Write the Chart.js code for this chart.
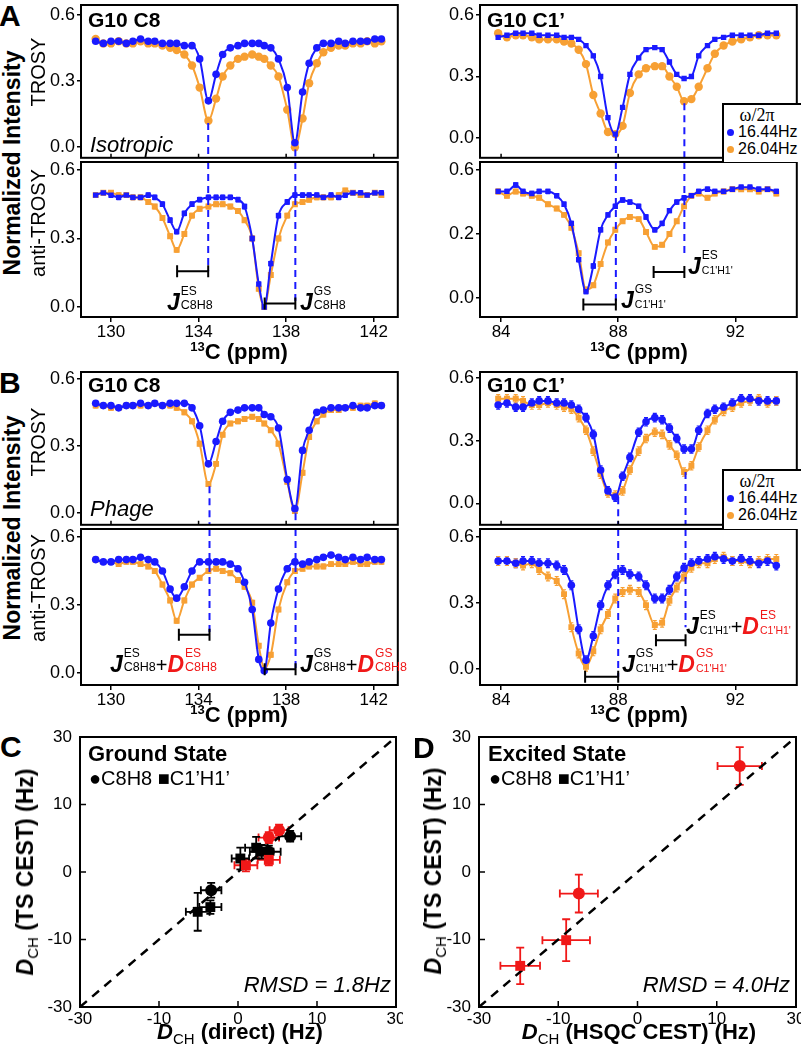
<!DOCTYPE html>
<html>
<head>
<meta charset="utf-8">
<script src="https://cdn.jsdelivr.net/npm/chart.js@4.4.1/dist/chart.umd.min.js"></script>
<style>
  body { margin: 0; background: #fff; }
  #fig { position: relative; width: 801px; height: 1050px; overflow: hidden; font-family: Arial, "Liberation Sans", sans-serif; color: #000; }
  canvas { position: absolute; }
  .t { position: absolute; white-space: nowrap; line-height: 1; z-index: 2; }
  .pl { font-size: 30px; font-weight: bold; }
  .ttl { font-size: 21px; font-weight: bold; }
  .cond { font-size: 22px; font-style: italic; }
  .rot { transform: translate(-50%, -50%) rotate(-90deg); }
  .ylab { font-size: 23px; font-weight: bold; }
  .ysub { font-size: 20px; }
  .xt { font-size: 22px; font-weight: bold; transform: translateX(-50%); }
  .xt sup { font-size: 13px; vertical-align: 8px; }
  .dch i { font-style: italic; }
  .dch sub { font-size: 15px; font-weight: normal; vertical-align: -5px; }
  .jl { position: absolute; width: 0; height: 0; z-index: 2; }
  .jl span { position: absolute; line-height: 1; white-space: nowrap; }
  .jl .big { font-weight: bold; font-style: italic; }
  .jl .red { color: #f01818; }
  .lgbox { position: absolute; border-left: 2px solid #000; border-top: 2px solid #000; background: #fff; z-index: 1; }
  .omega { font-family: "Liberation Serif", "Times New Roman", serif; font-size: 18px; transform: translateX(-50%); }
  .lgt { font-size: 16px; }
  .dot { position: absolute; width: 7px; height: 7px; border-radius: 50%; z-index: 2; }
  .state { font-size: 22px; font-weight: bold; }
  .mk { font-size: 20px; }
  .rmsd { font-size: 22px; font-style: italic; transform: translateX(-100%); }
</style>
</head>
<body>
<div id="fig">
  <div class="t pl" style="left:-1px;top:1px">A</div>
  <div class="t pl" style="left:-1px;top:368px">B</div>
  <div class="t pl" style="left:0px;top:732px">C</div>
  <div class="t pl" style="left:413px;top:733px">D</div>

  <div class="t ttl" style="left:88px;top:9px">G10 C8</div>
  <div class="t ttl" style="left:487px;top:9px">G10 C1’</div>
  <div class="t ttl" style="left:88px;top:374px">G10 C8</div>
  <div class="t ttl" style="left:487px;top:374px">G10 C1’</div>
  <div class="t cond" style="left:90px;top:134px">Isotropic</div>
  <div class="t cond" style="left:90px;top:498px">Phage</div>

  <div class="t rot ylab" style="left:12px;top:163px">Normalized Intensity</div>
  <div class="t rot ysub" style="left:38px;top:72px">TROSY</div>
  <div class="t rot ysub" style="left:38px;top:223px">anti-TROSY</div>
  <div class="t rot ylab" style="left:12px;top:528px">Normalized Intensity</div>
  <div class="t rot ysub" style="left:38px;top:442px">TROSY</div>
  <div class="t rot ysub" style="left:38px;top:588px">anti-TROSY</div>

  <div class="t xt" style="left:239px;top:340px"><sup>13</sup>C (ppm)</div>
  <div class="t xt" style="left:639px;top:340px"><sup>13</sup>C (ppm)</div>
  <div class="t xt" style="left:239px;top:703px"><sup>13</sup>C (ppm)</div>
  <div class="t xt" style="left:639px;top:703px"><sup>13</sup>C (ppm)</div>

  <!-- legends -->
  <div class="lgbox" style="left:722px;top:103px;width:82px;height:57px"></div>
  <div class="t omega" style="left:757px;top:106px">ω/2π</div>
  <div class="dot" style="left:727px;top:129px;background:#1a1aff"></div>
  <div class="t lgt" style="left:738px;top:124px">16.44Hz</div>
  <div class="dot" style="left:727px;top:146px;background:#f7a034"></div>
  <div class="t lgt" style="left:738px;top:141px">26.04Hz</div>

  <div class="lgbox" style="left:722px;top:469px;width:82px;height:58px"></div>
  <div class="t omega" style="left:757px;top:472px">ω/2π</div>
  <div class="dot" style="left:727px;top:495px;background:#1a1aff"></div>
  <div class="t lgt" style="left:738px;top:490px">16.44Hz</div>
  <div class="dot" style="left:727px;top:512px;background:#f7a034"></div>
  <div class="t lgt" style="left:738px;top:507px">26.04Hz</div>

  <!-- panels C and D text -->
  <div class="t state" style="left:88px;top:743px">Ground State</div>
  <div class="t mk" style="left:89px;top:768px">●C8H8 ■C1’H1’</div>
  <div class="t rmsd" style="left:391px;top:974px">RMSD = 1.8Hz</div>
  <div class="t state" style="left:488px;top:743px">Excited State</div>
  <div class="t mk" style="left:489px;top:768px">●C8H8 ■C1’H1’</div>
  <div class="t rmsd" style="left:790px;top:974px">RMSD = 4.0Hz</div>

  <div class="t rot ylab dch" style="left:27px;top:872px"><i>D</i><sub>CH</sub> (TS CEST) (Hz)</div>
  <div class="t rot ylab dch" style="left:435px;top:871px"><i>D</i><sub>CH</sub> (TS CEST) (Hz)</div>
  <div class="t xt dch" style="left:240px;top:1021px"><i>D</i><sub>CH</sub> (direct) (Hz)</div>
  <div class="t xt dch" style="left:639px;top:1021px"><i>D</i><sub>CH</sub> (HSQC CEST) (Hz)</div>
</div>

<script>
'use strict';

// ---------- CEST profiles ----------
const c8Ppm = [129.3, 129.65, 130.0, 130.35, 130.7, 131.0, 131.35, 131.7, 132.0, 132.35,
  132.7, 133.0, 133.35, 133.7, 134.05, 134.45, 134.8, 135.1, 135.45, 135.8,
  136.1, 136.45, 136.75, 137.0, 137.3, 137.65, 138.05, 138.4, 138.75, 139.05,
  139.4, 139.7, 140.05, 140.4, 140.7, 141.05, 141.4, 141.7, 142.05, 142.35];
const c1Ppm = [83.9, 84.2, 84.5, 84.75, 85.05, 85.3, 85.6, 85.9, 86.15, 86.4,
  86.65, 86.9, 87.15, 87.4, 87.65, 87.9, 88.15, 88.4, 88.7, 88.95,
  89.25, 89.5, 89.75, 90.0, 90.25, 90.5, 90.75, 91.05, 91.3, 91.6,
  91.9, 92.2, 92.5, 92.8, 93.1, 93.4];

// A: isotropic
const isoC8TrosyBlue = [0.48,0.47,0.48,0.48,0.47,0.48,0.49,0.48,0.48,0.47,0.47,0.47,0.46,0.46,0.40,0.21,0.33,0.42,0.45,0.46,0.47,0.47,0.47,0.46,0.45,0.40,0.27,0.02,0.25,0.38,0.45,0.47,0.47,0.48,0.47,0.48,0.48,0.48,0.49,0.49];
const isoC8TrosyOrange = [0.49,0.47,0.47,0.48,0.47,0.47,0.48,0.47,0.47,0.46,0.45,0.44,0.42,0.37,0.27,0.12,0.22,0.32,0.37,0.40,0.41,0.42,0.41,0.40,0.37,0.32,0.17,0.00,0.13,0.29,0.38,0.43,0.45,0.46,0.46,0.47,0.47,0.48,0.47,0.48];
const isoC8AntiBlue = [0.49,0.50,0.49,0.48,0.49,0.48,0.48,0.49,0.48,0.45,0.38,0.33,0.41,0.45,0.47,0.48,0.48,0.48,0.48,0.47,0.44,0.30,0.10,0.00,0.19,0.40,0.46,0.49,0.49,0.49,0.49,0.48,0.49,0.48,0.49,0.50,0.50,0.49,0.50,0.50];
const isoC8AntiOrange = [0.49,0.50,0.50,0.49,0.49,0.48,0.48,0.46,0.44,0.39,0.31,0.25,0.32,0.40,0.43,0.44,0.45,0.45,0.44,0.42,0.38,0.30,0.08,0.00,0.14,0.30,0.40,0.45,0.46,0.47,0.48,0.48,0.48,0.49,0.51,0.50,0.49,0.49,0.50,0.49];
const isoC1TrosyBlue = [0.49,0.50,0.51,0.51,0.51,0.50,0.50,0.50,0.49,0.49,0.48,0.45,0.40,0.30,0.10,0.02,0.15,0.31,0.39,0.43,0.44,0.43,0.37,0.31,0.29,0.30,0.40,0.45,0.48,0.49,0.50,0.50,0.50,0.50,0.51,0.51];
const isoC1TrosyOrange = [0.51,0.49,0.50,0.50,0.49,0.48,0.48,0.48,0.47,0.46,0.43,0.36,0.21,0.12,0.03,0.02,0.06,0.22,0.31,0.34,0.35,0.35,0.30,0.25,0.18,0.19,0.25,0.34,0.41,0.45,0.47,0.48,0.49,0.50,0.50,0.50];
const isoC1AntiBlue = [0.50,0.50,0.53,0.50,0.49,0.50,0.50,0.48,0.44,0.35,0.18,0.03,0.15,0.32,0.39,0.43,0.46,0.45,0.43,0.38,0.32,0.35,0.41,0.45,0.47,0.48,0.50,0.51,0.50,0.50,0.51,0.52,0.52,0.51,0.51,0.50];
const isoC1AntiOrange = [0.50,0.48,0.50,0.49,0.48,0.47,0.44,0.42,0.39,0.33,0.21,0.04,0.06,0.16,0.26,0.32,0.36,0.38,0.37,0.31,0.24,0.25,0.30,0.36,0.43,0.48,0.49,0.47,0.49,0.50,0.51,0.51,0.51,0.50,0.51,0.49];

// B: phage
const phgC8TrosyBlue = [0.49,0.48,0.48,0.47,0.48,0.48,0.49,0.48,0.49,0.48,0.49,0.49,0.49,0.47,0.39,0.22,0.32,0.41,0.45,0.46,0.47,0.47,0.47,0.44,0.43,0.38,0.15,0.02,0.28,0.37,0.45,0.46,0.47,0.47,0.47,0.48,0.47,0.47,0.48,0.48];
const phgC8TrosyOrange = [0.48,0.48,0.47,0.47,0.48,0.48,0.48,0.48,0.49,0.48,0.48,0.47,0.45,0.41,0.31,0.13,0.22,0.35,0.40,0.41,0.42,0.43,0.42,0.40,0.37,0.31,0.14,0.01,0.18,0.34,0.41,0.44,0.46,0.46,0.47,0.47,0.48,0.48,0.49,0.48];
const phgC8AntiBlue = [0.50,0.49,0.49,0.50,0.50,0.50,0.51,0.50,0.49,0.45,0.37,0.33,0.38,0.45,0.49,0.49,0.49,0.49,0.48,0.46,0.40,0.28,0.06,0.01,0.22,0.37,0.46,0.49,0.48,0.49,0.50,0.51,0.52,0.51,0.50,0.51,0.50,0.51,0.50,0.50];
const phgC8AntiOrange = [0.50,0.49,0.49,0.48,0.49,0.49,0.48,0.47,0.45,0.39,0.32,0.23,0.32,0.39,0.42,0.45,0.46,0.45,0.44,0.41,0.38,0.31,0.12,0.02,0.08,0.28,0.40,0.45,0.46,0.47,0.47,0.47,0.48,0.48,0.48,0.49,0.48,0.48,0.49,0.49];
const phgC1TrosyBlue = [0.47,0.48,0.46,0.46,0.48,0.49,0.49,0.48,0.48,0.47,0.45,0.41,0.33,0.16,0.06,0.03,0.13,0.22,0.34,0.39,0.41,0.40,0.36,0.31,0.26,0.26,0.35,0.43,0.45,0.46,0.48,0.50,0.50,0.49,0.49,0.49];
const phgC1TrosyOrange = [0.50,0.50,0.50,0.49,0.47,0.47,0.48,0.47,0.46,0.45,0.41,0.35,0.25,0.14,0.05,0.04,0.06,0.16,0.25,0.31,0.34,0.33,0.28,0.23,0.15,0.18,0.27,0.35,0.40,0.44,0.46,0.48,0.49,0.50,0.48,0.49];
const phgC1AntiBlue = [0.49,0.49,0.48,0.49,0.49,0.48,0.48,0.47,0.45,0.38,0.18,0.04,0.15,0.29,0.38,0.43,0.45,0.43,0.42,0.38,0.32,0.32,0.36,0.42,0.46,0.48,0.49,0.50,0.51,0.50,0.49,0.50,0.49,0.48,0.49,0.47];
const phgC1AntiOrange = [0.49,0.49,0.48,0.47,0.48,0.45,0.42,0.40,0.34,0.19,0.07,0.01,0.08,0.18,0.25,0.32,0.35,0.36,0.35,0.29,0.20,0.21,0.31,0.37,0.42,0.46,0.48,0.48,0.50,0.51,0.49,0.49,0.48,0.49,0.50,0.50];

const cestYTicks = [0, 0.3, 0.6];
const cestYLabels = ['0.0', '0.3', '0.6'];
const cestYLabelsAlt = ['0.0', '0.2', '0.6']; // as printed in panel A, C1' anti-TROSY
const c8XTicks = [130, 134, 138, 142];
const c1XTicks = [84, 88, 92];

// ---------- RDC correlation ----------
const rdcTicks = [-20, -10, 0, 10, 20];
const rdcTickLabels = ['-30', '-10', '0', '10', '30'];
const diagLine = [-20, 20];

const gsC8BlackX = [6.6, 3.9, -3.4];
const gsC8BlackY = [5.3, 3.0, -2.7];
const gsC8BlackXErr = [1.4, 1.5, 1.3];
const gsC8BlackYErr = [0.8, 0.9, 1.1];
const gsC1BlackX = [2.3, 0.3, 3.0, -3.5, -5.1];
const gsC1BlackY = [3.6, 2.0, 3.0, -5.2, -5.9];
const gsC1BlackXErr = [1.4, 1.1, 1.5, 1.4, 1.5];
const gsC1BlackYErr = [1.6, 1.6, 1.0, 1.0, 2.8];
const gsC8RedX = [5.2, 3.9];
const gsC8RedY = [6.2, 5.1];
const gsC8RedXErr = [1.2, 1.3];
const gsC8RedYErr = [0.8, 0.8];
const gsC1RedX = [3.9, 1.0];
const gsC1RedY = [1.8, 1.0];
const gsC1RedXErr = [1.4, 1.45];
const gsC1RedYErr = [0.8, 0.9];

const esC8X = [12.9, -7.4];
const esC8Y = [15.7, -3.2];
const esC8XErr = [2.8, 2.4];
const esC8YErr = [2.8, 2.8];
const esC1X = [-9.0, -14.8];
const esC1Y = [-10.1, -13.9];
const esC1XErr = [3.0, 2.5];
const esC1YErr = [3.1, 2.7];

const BLUE = '#1a1aff';
const ORANGE = '#f7a034';
const RED = '#f01818';

Chart.defaults.font.family = 'Arial, "Liberation Sans", sans-serif';
Chart.defaults.color = '#000';
Chart.defaults.animation = false;
Chart.defaults.events = [];
Chart.defaults.plugins.legend.display = false;
Chart.defaults.plugins.tooltip.enabled = false;

const fig = document.getElementById('fig');

function pts(xs, ys) {
  return xs.map((x, i) => ({ x: x, y: ys[i] }));
}

function makeCanvas(left, top, w, h) {
  const c = document.createElement('canvas');
  c.width = w;
  c.height = h;
  c.style.left = left + 'px';
  c.style.top = top + 'px';
  c.style.width = w + 'px';
  c.style.height = h + 'px';
  fig.appendChild(c);
  return c;
}

// J (+ D) labels with stacked super/subscripts, anchored on the baseline
function jLabel(left, base, state, group, withD) {
  const box = document.createElement('div');
  box.className = 'jl';
  box.style.left = left + 'px';
  box.style.top = base + 'px';
  fig.appendChild(box);
  const subSize = group.length > 4 ? 10.5 : 12.5;
  let x = 0;
  function put(text, size, dy, cls) {
    const s = document.createElement('span');
    s.textContent = text;
    s.className = cls;
    s.style.fontSize = size + 'px';
    s.style.left = x + 'px';
    s.style.top = (dy - 0.846 * size) + 'px';
    box.appendChild(s);
    return s.getBoundingClientRect().width;
  }
  function letter(ch, red) {
    x += put(ch, 23, 0, red ? 'big red' : 'big') + 1;
    const w1 = put(state, 12, -15, red ? 'red' : '');
    const w2 = put(group, subSize, 0, red ? 'red' : '');
    x += Math.max(w1, w2);
  }
  letter('J', false);
  if (withD) {
    x += put('+', 20, 0, '');
    letter('D', true);
  }
}

// frame round the plot area
const boxPlugin = {
  id: 'box',
  afterDraw(chart) {
    const a = chart.chartArea, ctx = chart.ctx;
    ctx.save();
    ctx.strokeStyle = '#000';
    ctx.lineWidth = 2;
    ctx.strokeRect(a.left, a.top, a.right - a.left, a.bottom - a.top);
    ctx.restore();
  }
};

// short tick marks pointing into the plot (bottom and left edges)
function innerTicks(xVals, yVals, len) {
  return {
    id: 'innerTicks',
    afterDraw(chart) {
      const a = chart.chartArea, ctx = chart.ctx, xs = chart.scales.x, ys = chart.scales.y;
      ctx.save();
      ctx.strokeStyle = '#000';
      ctx.lineWidth = 1.5;
      ctx.beginPath();
      xVals.forEach(v => { const px = xs.getPixelForValue(v); ctx.moveTo(px, a.bottom); ctx.lineTo(px, a.bottom - len); });
      yVals.forEach(v => { const py = ys.getPixelForValue(v); ctx.moveTo(a.left, py); ctx.lineTo(a.left + len, py); });
      ctx.stroke();
      ctx.restore();
    }
  };
}

// error bars read from dataset.xErr / dataset.yErr
const errPlugin = {
  id: 'errbars',
  beforeDatasetsDraw(chart) {
    const ctx = chart.ctx, xs = chart.scales.x, ys = chart.scales.y;
    chart.data.datasets.forEach(ds => {
      if (ds.xErr === undefined && ds.yErr === undefined) return;
      ctx.save();
      ctx.strokeStyle = ds.errColor || ds.borderColor;
      ctx.lineWidth = ds.errWidth || 1.2;
      const cap = ds.errCap || 2;
      ds.data.forEach((p, j) => {
        const px = xs.getPixelForValue(p.x), py = ys.getPixelForValue(p.y);
        ctx.beginPath();
        if (ds.yErr !== undefined) {
          const e = Array.isArray(ds.yErr) ? ds.yErr[j] : ds.yErr;
          const y1 = ys.getPixelForValue(p.y - e), y2 = ys.getPixelForValue(p.y + e);
          ctx.moveTo(px, y1); ctx.lineTo(px, y2);
          ctx.moveTo(px - cap, y1); ctx.lineTo(px + cap, y1);
          ctx.moveTo(px - cap, y2); ctx.lineTo(px + cap, y2);
        }
        if (ds.xErr !== undefined) {
          const e = Array.isArray(ds.xErr) ? ds.xErr[j] : ds.xErr;
          const x1 = xs.getPixelForValue(p.x - e), x2 = xs.getPixelForValue(p.x + e);
          ctx.moveTo(x1, py); ctx.lineTo(x2, py);
          ctx.moveTo(x1, py - cap); ctx.lineTo(x1, py + cap);
          ctx.moveTo(x2, py - cap); ctx.lineTo(x2, py + cap);
        }
        ctx.stroke();
      });
      ctx.restore();
    });
  }
};

// dashed guide lines and J bars
function markPlugin(vlines, bars) {
  return {
    id: 'marks',
    afterDatasetsDraw(chart) {
      const ctx = chart.ctx, xs = chart.scales.x, ys = chart.scales.y, a = chart.chartArea;
      ctx.save();
      ctx.strokeStyle = BLUE;
      ctx.lineWidth = 2;
      ctx.setLineDash([7, 5]);
      vlines.forEach(v => {
        const px = xs.getPixelForValue(v.x), py = ys.getPixelForValue(v.y);
        ctx.beginPath();
        if (v.dir === 'down') { ctx.moveTo(px, py); ctx.lineTo(px, a.bottom); }
        else { ctx.moveTo(px, a.top); ctx.lineTo(px, py); }
        ctx.stroke();
      });
      ctx.setLineDash([]);
      ctx.strokeStyle = '#000';
      bars.forEach(b => {
        const x1 = xs.getPixelForValue(b.x1), x2 = xs.getPixelForValue(b.x2), py = ys.getPixelForValue(b.y);
        ctx.beginPath();
        ctx.moveTo(x1, py); ctx.lineTo(x2, py);
        ctx.moveTo(x1, py - 6); ctx.lineTo(x1, py + 6);
        ctx.moveTo(x2, py - 6); ctx.lineTo(x2, py + 6);
        ctx.stroke();
      });
      ctx.restore();
    }
  };
}

function cestChart(rect, ppm, blue, orange, o) {
  const padL = 55, padT = 8, padR = 4, xH = o.showX ? 30 : 0;
  const w = rect[2] - rect[0] + padL + padR;
  const h = rect[3] - rect[1] + padT + xH;
  const cv = makeCanvas(rect[0] - padL, rect[1] - padT, w, h);
  const line = { showLine: true, borderWidth: 2, cubicInterpolationMode: 'monotone', pointBorderWidth: 0, errWidth: 1.2, errCap: 2 };
  const plugins = [errPlugin, boxPlugin, markPlugin(o.vlines, o.bars)];
  if (!o.showX) plugins.push(innerTicks(o.xTicks, [], 4));
  return new Chart(cv, {
    type: 'scatter',
    data: {
      datasets: [
        Object.assign({ data: pts(ppm, blue), borderColor: BLUE, backgroundColor: BLUE, pointStyle: o.blueStyle, pointRadius: 3.8, yErr: o.err }, line),
        Object.assign({ data: pts(ppm, orange), borderColor: ORANGE, backgroundColor: ORANGE, pointStyle: o.orangeStyle, pointRadius: 4.2, yErr: o.err }, line)
      ]
    },
    options: {
      responsive: false,
      layout: { padding: { left: 0, top: padT, right: padR, bottom: 0 } },
      scales: {
        x: {
          type: 'linear', display: o.showX, min: o.xMin, max: o.xMax,
          afterBuildTicks: s => { s.ticks = o.xTicks.map(v => ({ value: v })); },
          afterFit: s => { s.height = xH; s.paddingLeft = 0; s.paddingRight = 0; },
          ticks: { font: { size: 17 }, padding: 0, maxRotation: 0, autoSkip: false, callback: v => String(v) },
          grid: { drawOnChartArea: false, color: '#000', lineWidth: 1.5, tickLength: 5 },
          border: { display: false }
        },
        y: {
          type: 'linear', min: o.yMin, max: o.yMax,
          afterBuildTicks: s => { s.ticks = cestYTicks.map(v => ({ value: v })); },
          afterFit: s => { s.width = padL; s.paddingTop = 0; s.paddingBottom = 0; },
          ticks: { font: { size: 18 }, padding: 2, autoSkip: false, callback: (v, i) => o.yLabels[i] },
          grid: { drawOnChartArea: false, color: '#000', lineWidth: 1.5, tickLength: 4 },
          border: { display: false }
        }
      }
    },
    plugins: plugins
  });
}

function rdcChart(rect, sets) {
  const padL = 50, padT = 8, padR = 4, xH = 28;
  const w = rect[2] - rect[0] + padL + padR;
  const h = rect[3] - rect[1] + padT + xH;
  const cv = makeCanvas(rect[0] - padL, rect[1] - padT, w, h);
  const axis = (pad) => ({
    type: 'linear', min: -20, max: 20,
    afterBuildTicks: s => { s.ticks = rdcTicks.map(v => ({ value: v })); },
    ticks: { font: { size: 17 }, padding: pad, autoSkip: false, maxRotation: 0, callback: (v, i) => rdcTickLabels[i] },
    grid: { drawOnChartArea: false, drawTicks: false },
    border: { display: false }
  });
  const xAxis = axis(2);
  xAxis.afterFit = s => { s.height = xH; s.paddingLeft = 0; s.paddingRight = 0; };
  const yAxis = axis(8);
  yAxis.afterFit = s => { s.width = padL; s.paddingTop = 0; s.paddingBottom = 0; };
  sets.push({ data: pts(diagLine, diagLine), showLine: true, borderColor: '#000', borderWidth: 2.5, borderDash: [9, 7], pointRadius: 0 });
  return new Chart(cv, {
    type: 'scatter',
    data: { datasets: sets },
    options: {
      responsive: false,
      layout: { padding: { left: 0, top: padT, right: padR, bottom: 0 } },
      scales: { x: xAxis, y: yAxis }
    },
    plugins: [errPlugin, boxPlugin, innerTicks(rdcTicks, rdcTicks, 6)]
  });
}

function rdcSet(xs, ys, xErr, yErr, color, style) {
  return {
    data: pts(xs, ys), pointStyle: style, pointRadius: style === 'rect' ? 7 : 6,
    backgroundColor: color, borderColor: color, pointBorderWidth: 0,
    xErr: xErr, yErr: yErr, errColor: color, errWidth: 1.8, errCap: 4
  };
}

// ---- panel A ----
cestChart([81, 5, 398, 162], c8Ppm, isoC8TrosyBlue, isoC8TrosyOrange, {
  showX: false, xMin: 128.63, xMax: 143.1, xTicks: c8XTicks, yMin: -0.048, yMax: 0.644, yLabels: cestYLabels,
  blueStyle: 'circle', orangeStyle: 'circle', err: 0.008,
  vlines: [{ x: 134.44, y: 0.11, dir: 'down' }, { x: 138.42, y: -0.01, dir: 'down' }], bars: []
});
cestChart([81, 162, 398, 317], c8Ppm, isoC8AntiBlue, isoC8AntiOrange, {
  showX: true, xMin: 128.63, xMax: 143.1, xTicks: c8XTicks, yMin: -0.044, yMax: 0.635, yLabels: cestYLabels,
  blueStyle: 'rect', orangeStyle: 'rect', err: 0.01,
  vlines: [{ x: 134.44, y: 0.156, dir: 'up' }, { x: 138.42, y: 0.015, dir: 'up' }],
  bars: [{ x1: 133.02, x2: 134.44, y: 0.156 }, { x1: 137.02, x2: 138.42, y: 0.015 }]
});
cestChart([480, 5, 797, 162], c1Ppm, isoC1TrosyBlue, isoC1TrosyOrange, {
  showX: false, xMin: 83.28, xMax: 94.1, xTicks: c1XTicks, yMin: -0.095, yMax: 0.647, yLabels: cestYLabels,
  blueStyle: 'rect', orangeStyle: 'circle', err: 0.008,
  vlines: [{ x: 87.92, y: 0.02, dir: 'down' }, { x: 90.26, y: 0.17, dir: 'down' }], bars: []
});
cestChart([480, 162, 797, 317], c1Ppm, isoC1AntiBlue, isoC1AntiOrange, {
  showX: true, xMin: 83.28, xMax: 94.1, xTicks: c1XTicks, yMin: -0.089, yMax: 0.638, yLabels: cestYLabelsAlt,
  blueStyle: 'rect', orangeStyle: 'rect', err: 0.01,
  vlines: [{ x: 87.92, y: -0.03, dir: 'up' }, { x: 90.26, y: 0.21, dir: 'up' }],
  bars: [{ x1: 89.21, x2: 90.26, y: 0.122 }, { x1: 86.81, x2: 87.92, y: -0.03 }]
});

// ---- panel B ----
cestChart([81, 372, 398, 529], c8Ppm, phgC8TrosyBlue, phgC8TrosyOrange, {
  showX: false, xMin: 128.63, xMax: 143.1, xTicks: c8XTicks, yMin: -0.052, yMax: 0.63, yLabels: cestYLabels,
  blueStyle: 'circle', orangeStyle: 'rect', err: 0.01,
  vlines: [{ x: 134.5, y: 0.12, dir: 'down' }, { x: 138.43, y: 0.0, dir: 'down' }], bars: []
});
cestChart([81, 529, 398, 685], c8Ppm, phgC8AntiBlue, phgC8AntiOrange, {
  showX: true, xMin: 128.63, xMax: 143.1, xTicks: c8XTicks, yMin: -0.053, yMax: 0.635, yLabels: cestYLabels,
  blueStyle: 'circle', orangeStyle: 'rect', err: 0.01,
  vlines: [{ x: 134.5, y: 0.169, dir: 'up' }, { x: 138.43, y: 0.017, dir: 'up' }],
  bars: [{ x1: 133.1, x2: 134.5, y: 0.169 }, { x1: 137.02, x2: 138.43, y: 0.017 }]
});
cestChart([480, 372, 797, 529], c1Ppm, phgC1TrosyBlue, phgC1TrosyOrange, {
  showX: false, xMin: 83.28, xMax: 94.1, xTicks: c1XTicks, yMin: -0.102, yMax: 0.628, yLabels: cestYLabels,
  blueStyle: 'circle', orangeStyle: 'rect', err: 0.02,
  vlines: [{ x: 88.0, y: 0.03, dir: 'down' }, { x: 90.3, y: 0.15, dir: 'down' }], bars: []
});
cestChart([480, 529, 797, 685], c1Ppm, phgC1AntiBlue, phgC1AntiOrange, {
  showX: true, xMin: 83.28, xMax: 94.1, xTicks: c1XTicks, yMin: -0.073, yMax: 0.636, yLabels: cestYLabels,
  blueStyle: 'circle', orangeStyle: 'rect', err: 0.02,
  vlines: [{ x: 88.0, y: -0.035, dir: 'up' }, { x: 90.3, y: 0.19, dir: 'up' }],
  bars: [{ x1: 89.29, x2: 90.3, y: 0.13 }, { x1: 86.87, x2: 88.0, y: -0.035 }]
});

// ---- panels C and D ----
rdcChart([80, 737, 399, 1007], [
  rdcSet(gsC8RedX, gsC8RedY, gsC8RedXErr, gsC8RedYErr, RED, 'circle'),
  rdcSet(gsC1RedX, gsC1RedY, gsC1RedXErr, gsC1RedYErr, RED, 'rect'),
  rdcSet(gsC8BlackX, gsC8BlackY, gsC8BlackXErr, gsC8BlackYErr, '#000', 'circle'),
  rdcSet(gsC1BlackX, gsC1BlackY, gsC1BlackXErr, gsC1BlackYErr, '#000', 'rect')
]);
rdcChart([479, 737, 799, 1007], [
  rdcSet(esC8X, esC8Y, esC8XErr, esC8YErr, RED, 'circle'),
  rdcSet(esC1X, esC1Y, esC1XErr, esC1YErr, RED, 'rect')
]);

// ---- J-coupling labels ----
jLabel(167, 310, 'ES', 'C8H8', false);
jLabel(300, 310, 'GS', 'C8H8', false);
jLabel(688, 274, 'ES', "C1'H1'", false);
jLabel(621, 308, 'GS', "C1'H1'", false);
jLabel(110, 672, 'ES', 'C8H8', true);
jLabel(300, 672, 'GS', 'C8H8', true);
jLabel(686, 634, 'ES', "C1'H1'", true);
jLabel(622, 672, 'GS', "C1'H1'", true);
</script>
</body>
</html>
